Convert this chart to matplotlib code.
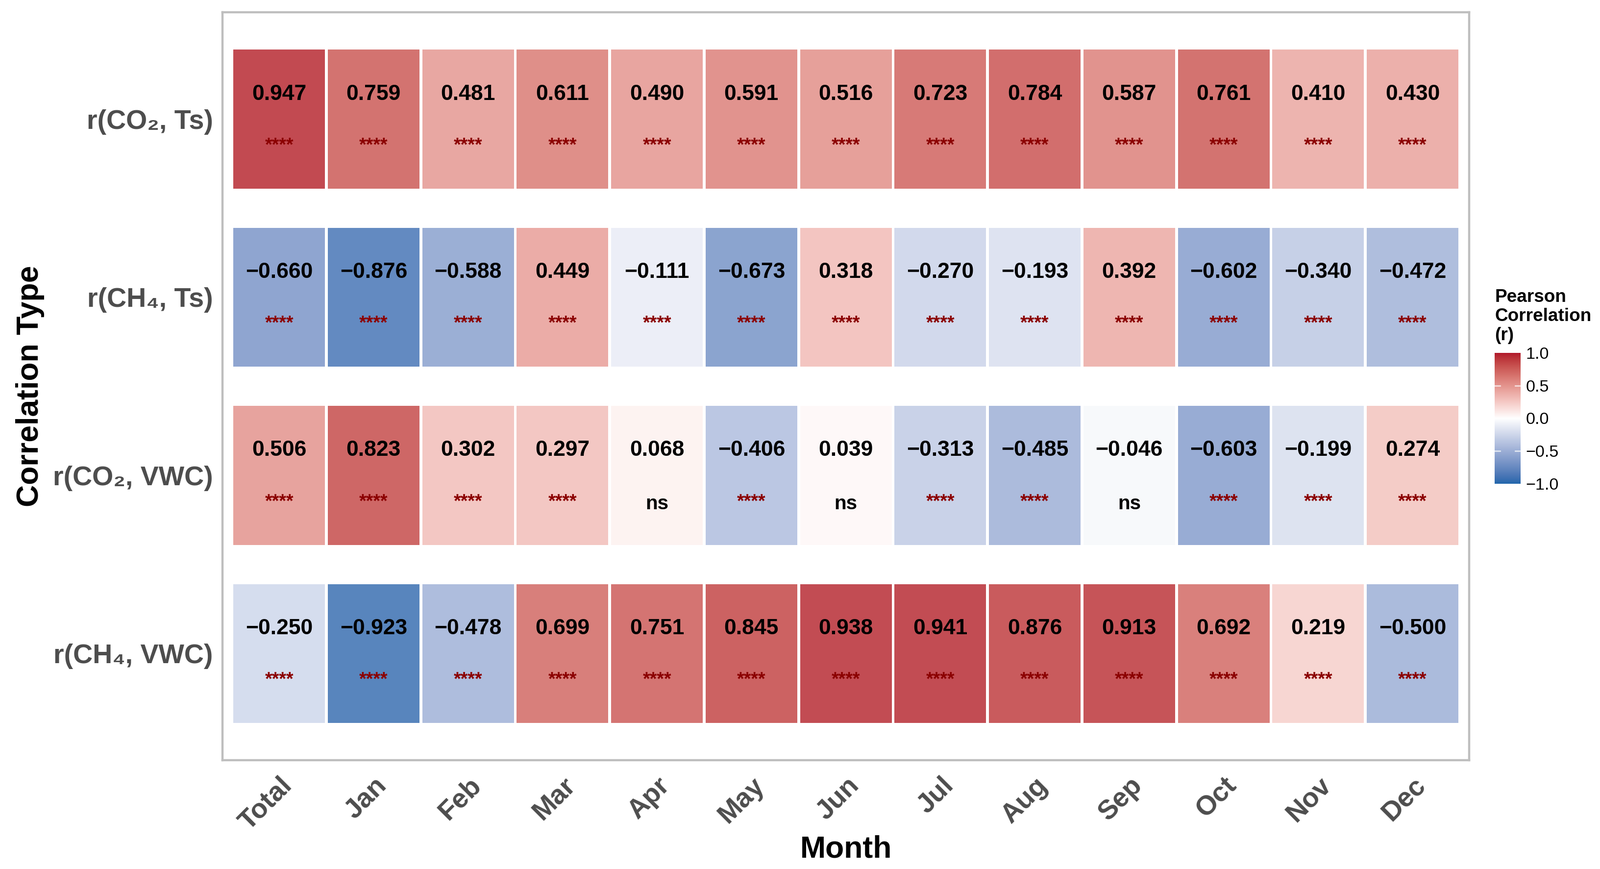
import numpy as np
import matplotlib
matplotlib.use("Agg")
import matplotlib.pyplot as plt
from matplotlib.colors import ListedColormap, Normalize
from matplotlib.patches import Rectangle

plt.rcParams['font.family'] = ['Liberation Sans', 'DejaVu Sans']

months = ["Total", "Jan", "Feb", "Mar", "Apr", "May", "Jun", "Jul", "Aug", "Sep", "Oct", "Nov", "Dec"]
corr_types = ["r(CO₂, Ts)", "r(CH₄, Ts)", "r(CO₂, VWC)", "r(CH₄, VWC)"]

r_co2_ts = [0.947, 0.759, 0.481, 0.611, 0.490, 0.591, 0.516, 0.723, 0.784, 0.587, 0.761, 0.410, 0.430]
r_ch4_ts = [-0.660, -0.876, -0.588, 0.449, -0.111, -0.673, 0.318, -0.270, -0.193, 0.392, -0.602, -0.340, -0.472]
r_co2_vwc = [0.506, 0.823, 0.302, 0.297, 0.068, -0.406, 0.039, -0.313, -0.485, -0.046, -0.603, -0.199, 0.274]
r_ch4_vwc = [-0.250, -0.923, -0.478, 0.699, 0.751, 0.845, 0.938, 0.941, 0.876, 0.913, 0.692, 0.219, -0.500]

sig_co2_ts = ["****"] * 13
sig_ch4_ts = ["****"] * 13
sig_co2_vwc = ["****", "****", "****", "****", "ns", "****", "ns", "****", "****", "ns", "****", "****", "****"]
sig_ch4_vwc = ["****"] * 13

values = [r_co2_ts, r_ch4_ts, r_co2_vwc, r_ch4_vwc]
sigs = [sig_co2_ts, sig_ch4_ts, sig_co2_vwc, sig_ch4_vwc]

# ---- Lab-interpolated diverging palette (like ggplot2 scale_fill_gradient2) ----
def srgb_to_lin(c):
    c = np.asarray(c, float)
    return np.where(c <= 0.04045, c / 12.92, ((c + 0.055) / 1.055) ** 2.4)

def lin_to_srgb(c):
    c = np.clip(c, 0, 1)
    return np.where(c <= 0.0031308, 12.92 * c, 1.055 * c ** (1 / 2.4) - 0.055)

M = np.array([[0.4124, 0.3576, 0.1805], [0.2126, 0.7152, 0.0722], [0.0193, 0.1192, 0.9505]])
Minv = np.linalg.inv(M)
WHITE = np.array([0.95047, 1.0, 1.08883])

def f(t):
    d = 6 / 29
    return np.where(t > d ** 3, np.cbrt(t), t / (3 * d * d) + 4 / 29)

def finv(t):
    d = 6 / 29
    return np.where(t > d, t ** 3, 3 * d * d * (t - 4 / 29))

def rgb_to_lab(rgb):
    xyz = M @ srgb_to_lin(rgb) / WHITE
    fx, fy, fz = f(xyz)
    return np.array([116 * fy - 16, 500 * (fx - fy), 200 * (fy - fz)])

def lab_to_rgb(lab):
    L, a, b = lab
    fy = (L + 16) / 116
    fx = fy + a / 500
    fz = fy - b / 200
    xyz = np.array([finv(fx), finv(fy), finv(fz)]) * WHITE
    return lin_to_srgb(Minv @ xyz)

def hex2rgb(h):
    h = h.lstrip('#')
    return np.array([int(h[i:i + 2], 16) / 255 for i in (0, 2, 4)])

low, mid, high = hex2rgb("#2166AC"), hex2rgb("#FFFFFF"), hex2rgb("#B2182B")
lab_low, lab_mid, lab_high = rgb_to_lab(low), rgb_to_lab(mid), rgb_to_lab(high)
cols = []
N = 256
for t in np.linspace(-1, 1, N):
    if t < 0:
        lab = lab_mid + (lab_low - lab_mid) * (-t)
    else:
        lab = lab_mid + (lab_high - lab_mid) * t
    cols.append(np.clip(lab_to_rgb(lab), 0, 1))
cmap = ListedColormap(cols)
norm = Normalize(-1, 1)

# ---- figure ----
W, H = 3266, 1773
dpi = 200
fig = plt.figure(figsize=(W / dpi, H / dpi), dpi=dpi)
ax = fig.add_axes([0.139, 0.125, 0.779, 0.861])

ncol, nrow = len(months), len(corr_types)
tile_w, tile_h = 0.97, 0.78
alpha = 0.85
for i in range(nrow):
    for j in range(ncol):
        v = values[i][j]
        col = cmap(norm(v))
        ax.add_patch(Rectangle((j - tile_w / 2, i - tile_h / 2), tile_w, tile_h,
                               facecolor=col, alpha=alpha, edgecolor='none', zorder=1))
        txt = f"{v:.3f}".replace("-", "\u2212")
        ax.text(j, i - 0.14, txt, ha='center', va='center', fontsize=16,
                fontweight='bold', color='black', zorder=3)
        s = sigs[i][j]
        if s == "ns":
            ax.text(j, i + 0.16, s, ha='center', va='center', fontsize=14.5,
                    fontweight='bold', color='black', zorder=3)
        else:
            ax.text(j, i + 0.15, s, ha='center', va='center', fontsize=13.5,
                    fontweight='bold', color='#8B0000', zorder=3)

ax.set_xlim(-0.6, ncol - 1 + 0.6)
ax.set_ylim(nrow - 1 + 0.6, -0.6)
ax.set_xticks(range(ncol))
ax.set_xticklabels(months, rotation=45, ha='right', rotation_mode='anchor',
                   fontsize=20, fontweight='bold', color='#4D4D4D')
ax.set_yticks(range(nrow))
ax.set_yticklabels(corr_types, fontsize=20, fontweight='bold', color='#4D4D4D')
ax.tick_params(axis='both', length=0, pad=7)
ax.tick_params(axis='x', pad=9)
for sp in ax.spines.values():
    sp.set_color('#BEBEBE')
    sp.set_linewidth(1.6)
ax.set_xlabel("Month", fontsize=22.5, fontweight='bold', color='black', labelpad=0)
ax.set_ylabel("Correlation Type", fontsize=22.5, fontweight='bold', color='black', labelpad=6)

# ---- colorbar ----
cax = fig.add_axes([0.934, 0.4435, 0.016, 0.1505])
grad = np.linspace(-1, 1, 256).reshape(-1, 1)
cax.imshow(grad, aspect='auto', cmap=cmap, norm=norm, origin='lower', extent=[0, 1, -1, 1])
cax.set_xlim(0, 1)
cax.set_ylim(-1, 1)
cax.set_xticks([])
cax.yaxis.tick_right()
cax.set_yticks([-1, -0.5, 0, 0.5, 1])
cax.set_yticklabels(["\u22121.0", "\u22120.5", "0.0", "0.5", "1.0"], fontsize=12.3, color='black')
cax.tick_params(axis='y', length=0, pad=4)
for yv in [-0.5, 0.5]:
    cax.plot([0, 0.2], [yv, yv], color='white', lw=1, alpha=0.7)
    cax.plot([0.8, 1], [yv, yv], color='white', lw=1, alpha=0.7)
for sp in cax.spines.values():
    sp.set_visible(False)
fig.text(0.934, 0.668, "Pearson\nCorrelation\n(r)", ha='left', va='top', fontsize=13.3,
         fontweight='bold', color='black', linespacing=1.15)

fig.savefig("out.png", dpi=dpi, facecolor='white')
